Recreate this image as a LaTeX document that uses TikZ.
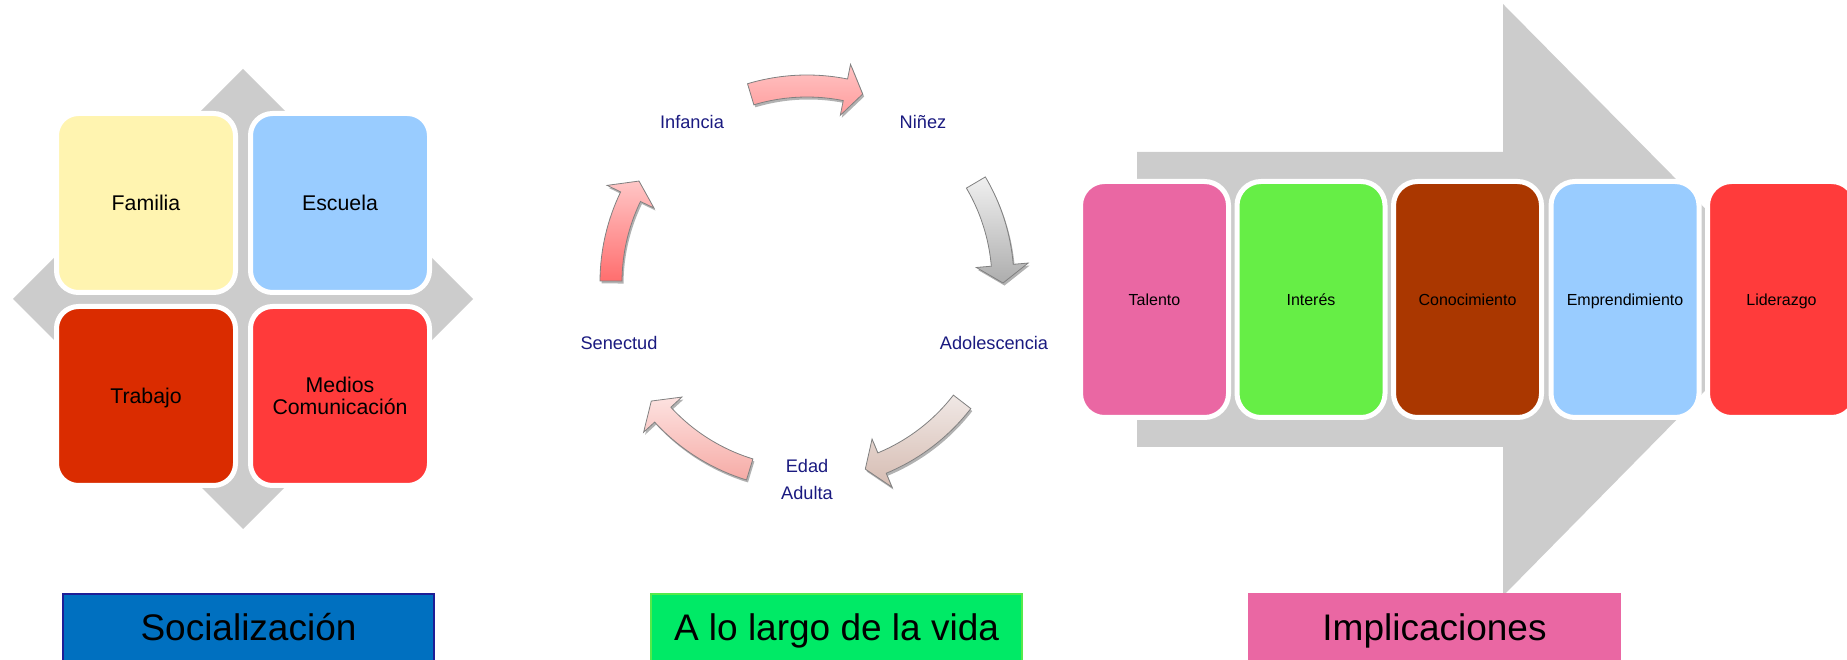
\documentclass[tikz,border=0pt]{standalone}
\usepackage{fontspec}
\setmainfont{Liberation Sans}
\usetikzlibrary{calc,shadows}
\definecolor{bggray}{HTML}{CCCCCC}
\definecolor{cFamilia}{HTML}{FFF4B0}
\definecolor{cEscuela}{HTML}{99CCFF}
\definecolor{cTrabajo}{HTML}{DA2C00}
\definecolor{cMedios}{HTML}{FF3A3A}
\definecolor{cTalento}{HTML}{EA67A3}
\definecolor{cInteres}{HTML}{66EE46}
\definecolor{cConoc}{HTML}{AA3700}
\definecolor{cEmpr}{HTML}{99CCFF}
\definecolor{cLider}{HTML}{FF3B3B}
\definecolor{cSocial}{HTML}{0070C0}
\definecolor{cSocialB}{HTML}{1E1E96}
\definecolor{cVida}{HTML}{00EA66}
\definecolor{cVidaB}{HTML}{55EA4A}
\definecolor{cImpl}{HTML}{EA67A3}
\definecolor{navytext}{HTML}{1A1A80}
\definecolor{arrowgray}{HTML}{808080}
\definecolor{aTopA}{HTML}{FFC4C4}
\definecolor{aTopB}{HTML}{FF9C9C}
\definecolor{aRightA}{HTML}{F0F0F0}
\definecolor{aRightB}{HTML}{ADADAD}
\definecolor{aBRA}{HTML}{F0E8E5}
\definecolor{aBRB}{HTML}{D6BCB2}
\definecolor{aBLA}{HTML}{FDE2E0}
\definecolor{aBLB}{HTML}{F6ABA6}
\definecolor{aLA}{HTML}{FFC6C6}
\definecolor{aLB}{HTML}{FF6E6E}
\tikzset{
  quad/.style={rounded corners=22pt, draw=white, line width=5pt,
    minimum width=179pt, minimum height=179pt, inner sep=0pt, align=center,
    font=\fontsize{21.3pt}{21.7pt}\selectfont, text=black},
  oneline/.style={text height=#1, text depth=0pt},
  stagebox/.style={rounded corners=24pt, draw=white, line width=5pt,
    minimum width=148pt, minimum height=236pt, inner sep=0pt,
    font=\fontsize{16pt}{18pt}\selectfont, text=black,
    text height=11.5pt, text depth=0pt},
  cyclabel/.style={text=navytext, font=\fontsize{18.2pt}{27pt}\selectfont,
    align=center, inner sep=0pt},
  titlebox/.style={minimum width=371pt, minimum height=67pt, inner sep=0pt,
    text height=26.5pt, text depth=0pt, font=\fontsize{37pt}{40pt}\selectfont,
    line width=1.5pt, text=black},
  cycarrow/.style={draw=arrowgray, line width=0.8pt,
    drop shadow={shadow xshift=1.5pt, shadow yshift=-2.5pt, opacity=0.3, fill=black}},
}
\newcommand{\cycarr}[4]{%
  \pgfmathsetmacro{\hb}{#2+5.2}%
  \draw[cycarrow, top color=#3, bottom color=#4]
    ($(C)+(#1:207)$) arc[start angle=#1, end angle=\hb, radius=207]
    -- ($(C)+(\hb:222)$) -- ($(C)+(#2:196)$) -- ($(C)+(\hb:170)$)
    -- ($(C)+(\hb:185)$) arc[start angle=\hb, end angle=#1, radius=185] -- cycle;}
\begin{document}
\begin{tikzpicture}[x=1pt,y=1pt]
\useasboundingbox (0,0) rectangle (1847,659);
% ---------- Left panel: Socializacion ----------
\fill[bggray] (243,590) -- (473,360) -- (243,130) -- (13,360) -- cycle;
\node[quad, fill=cFamilia, oneline=15.3pt] (familia) at (146,456) {Familia};
\node[quad, fill=cEscuela, oneline=15.3pt] (escuela) at (340,456) {Escuela};
\node[quad, fill=cTrabajo, oneline=15.3pt] (trabajo) at (146,263) {Trabajo};
\node[quad, fill=cMedios] (medios) at (340,263) {Medios\\Comunicación};
% ---------- Middle panel: cycle ----------
\coordinate (C) at (807,377);
\cycarr{106.7}{73.5}{aTopA}{aTopB}
\cycarr{30.5}{-0.3}{aRightA}{aRightB}
\cycarr{-37.7}{-72.7}{aBRA}{aBRB}
\cycarr{-107}{-142.6}{aBLA}{aBLB}
\cycarr{179.7}{149}{aLA}{aLB}
\node[cyclabel, text height=13pt, text depth=0pt] (infancia) at (692,536.5) {Infancia};
\node[cyclabel, text height=13pt, text depth=0pt] (ninez) at (923,536.5) {Niñez};
\node[cyclabel, text height=13pt, text depth=0pt] (adol) at (994,316.3) {Adolescencia};
\node[cyclabel, text height=13pt, text depth=0pt] (senectud) at (619,316.3) {Senectud};
\node[cyclabel] (adulta) at (807,180) {Edad\\Adulta};
% ---------- Right panel: Implicaciones ----------
\fill[bggray] (1137,507) -- (1503,507) -- (1503,655) -- (1795,359.5)
  -- (1503,63) -- (1503,212) -- (1137,212) -- cycle;
\node[stagebox, fill=cTalento] (talento) at (1154.5,359.5) {Talento};
\node[stagebox, fill=cInteres] (interes) at (1311,359.5) {Interés};
\node[stagebox, fill=cConoc] (conoc) at (1467.5,359.5) {Conocimiento};
\node[stagebox, fill=cEmpr] (empr) at (1625,359.5) {Emprendimiento};
\node[stagebox, fill=cLider] (lider) at (1781.5,359.5) {Liderazgo};
% ---------- Titles ----------
\node[titlebox, fill=cSocial, draw=cSocialB] (tsocial) at (248.5,31.5) {Socialización};
\node[titlebox, fill=cVida, draw=cVidaB] (tvida) at (836.5,31.5) {A lo largo de la vida};
\node[titlebox, fill=cImpl, draw=cImpl] (timpl) at (1434.5,31.5) {Implicaciones};
\end{tikzpicture}
\end{document}
